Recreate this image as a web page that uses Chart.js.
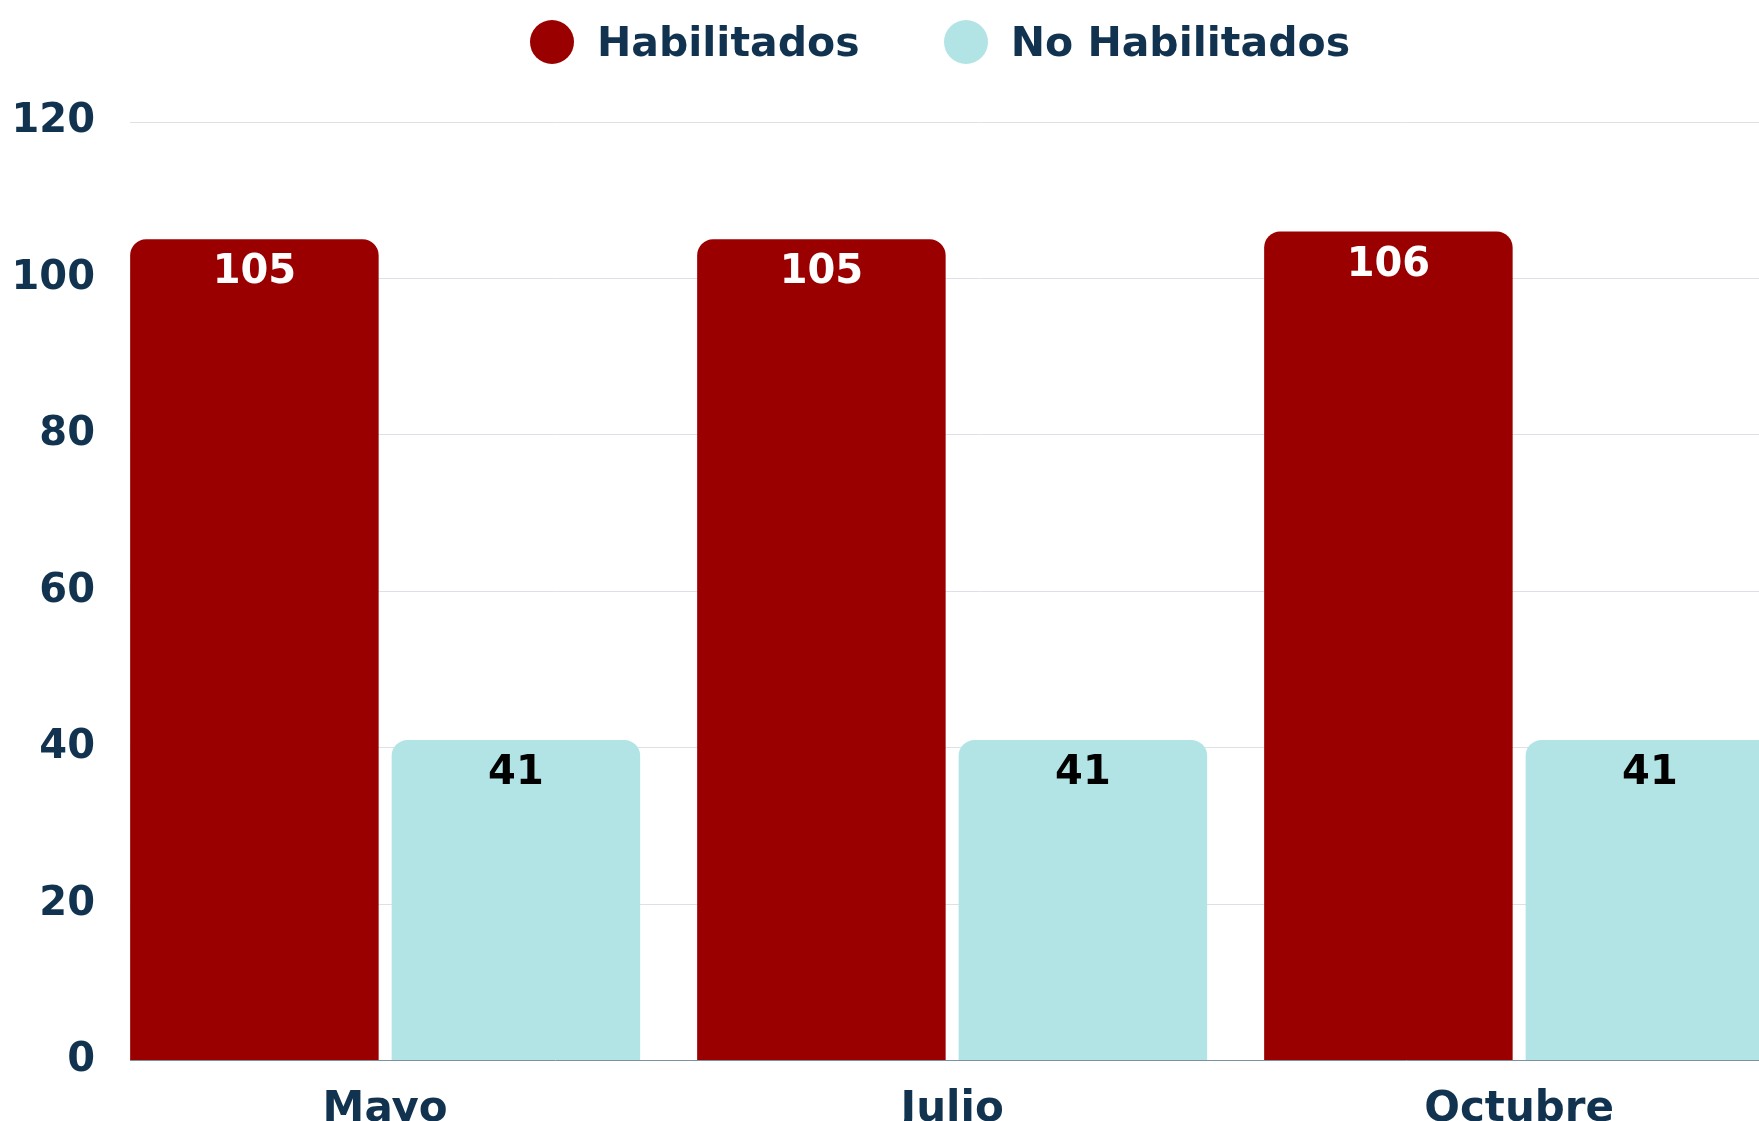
<!DOCTYPE html>
<html lang="es">
<head>
    <meta charset="UTF-8">
    <title>Habilitados / No Habilitados</title>
    <style>
        body {
            margin: 0;
            overflow: hidden;
            background: #ffffff;
            font-family: "DejaVu Sans", sans-serif;
        }
        #wrap {
            position: relative;
            width: 1880px;
            height: 1160px;
        }
        #legend {
            position: absolute;
            top: 20px;
            left: 0;
            width: 1880px;
            height: 44px;
            display: flex;
            justify-content: center;
            align-items: center;
        }
        .item {
            display: flex;
            align-items: center;
            margin: 0 42px;
        }
        .dot {
            width: 44px;
            height: 44px;
            border-radius: 50%;
            margin-right: 23px;
        }
        .lbl {
            font-weight: bold;
            font-size: 41px;
            line-height: 44px;
            color: #12334f;
        }
    </style>
</head>
<body>
    <div id="wrap">
        <div id="legend"></div>
        <canvas id="myChart" width="1880" height="1160"></canvas>
    </div>

    <script src="https://cdn.jsdelivr.net/npm/chart.js"></script>
    <script>

// data
const months = ['Mayo', 'Julio', 'Octubre'];
const seriesNames = ['Habilitados', 'No Habilitados'];
const habilitados = [105, 105, 106];
const noHabilitados = [41, 41, 41];
const yTicks = [0, 20, 40, 60, 80, 100, 120];

const barColors = ['#9b0000', '#b2e4e5'];
const labelColors = ['#ffffff', '#000000'];
const navy = '#12334f';

// html legend
const legendBox = document.getElementById('legend');
seriesNames.forEach((name, i) => {
    const item = document.createElement('div');
    item.className = 'item';
    item.innerHTML = '<span class="dot" style="background:' + barColors[i] + '"></span><span class="lbl">' + name + '</span>';
    legendBox.appendChild(item);
});

function toPoints(values) {
    return values.map((v, i) => ({ x: i, y: v }));
}

// value labels inside the top of each bar
const valueLabels = {
    id: 'valueLabels',
    afterDatasetsDraw(chart) {
        const ctx = chart.ctx;
        ctx.save();
        ctx.font = 'bold 40px "DejaVu Sans"';
        ctx.textAlign = 'center';
        ctx.textBaseline = 'alphabetic';
        chart.data.datasets.forEach((ds, di) => {
            const meta = chart.getDatasetMeta(di);
            ctx.fillStyle = labelColors[di];
            meta.data.forEach((bar, i) => {
                ctx.fillText(String(ds.data[i].y), bar.x, bar.y + 44);
            });
        });
        ctx.restore();
    }
};

const ctx = document.getElementById('myChart').getContext('2d');
const chart = new Chart(ctx, {
    type: 'bar',
    data: {
        datasets: [
            {
                label: seriesNames[0],
                data: toPoints(habilitados),
                backgroundColor: barColors[0],
                borderRadius: 16,
                categoryPercentage: 0.9224,
                barPercentage: 0.9503
            },
            {
                label: seriesNames[1],
                data: toPoints(noHabilitados),
                backgroundColor: barColors[1],
                borderRadius: 16,
                categoryPercentage: 0.9224,
                barPercentage: 0.9503
            }
        ]
    },
    options: {
        responsive: false,
        animation: false,
        devicePixelRatio: 1,
        layout: {
            padding: { top: 122, right: 49, bottom: 1, left: 0 }
        },
        plugins: {
            legend: { display: false },
            tooltip: { enabled: false }
        },
        scales: {
            x: {
                type: 'linear',
                min: -0.45,
                max: 2.55,
                offset: false,
                afterBuildTicks: (scale) => { scale.ticks = months.map((m, i) => ({ value: i })); },
                grid: { display: false, drawTicks: false },
                border: { display: true, color: '#7a93a3', width: 1 },
                ticks: {
                    padding: 24,
                    color: navy,
                    font: { family: 'DejaVu Sans', size: 42, weight: 'bold' },
                    callback: (v) => months[v] !== undefined ? months[v] : ''
                }
            },
            y: {
                min: yTicks[0],
                max: yTicks[yTicks.length - 1],
                afterFit: (scale) => { scale.width = 130; },
                grid: { color: '#dde1e6', lineWidth: 1, drawTicks: false },
                border: { display: false },
                ticks: {
                    stepSize: 20,
                    padding: 35,
                    color: navy,
                    font: { family: 'DejaVu Sans', size: 40, weight: 'bold' }
                }
            }
        }
    },
    plugins: [valueLabels]
});

    </script>
</body>
</html>
